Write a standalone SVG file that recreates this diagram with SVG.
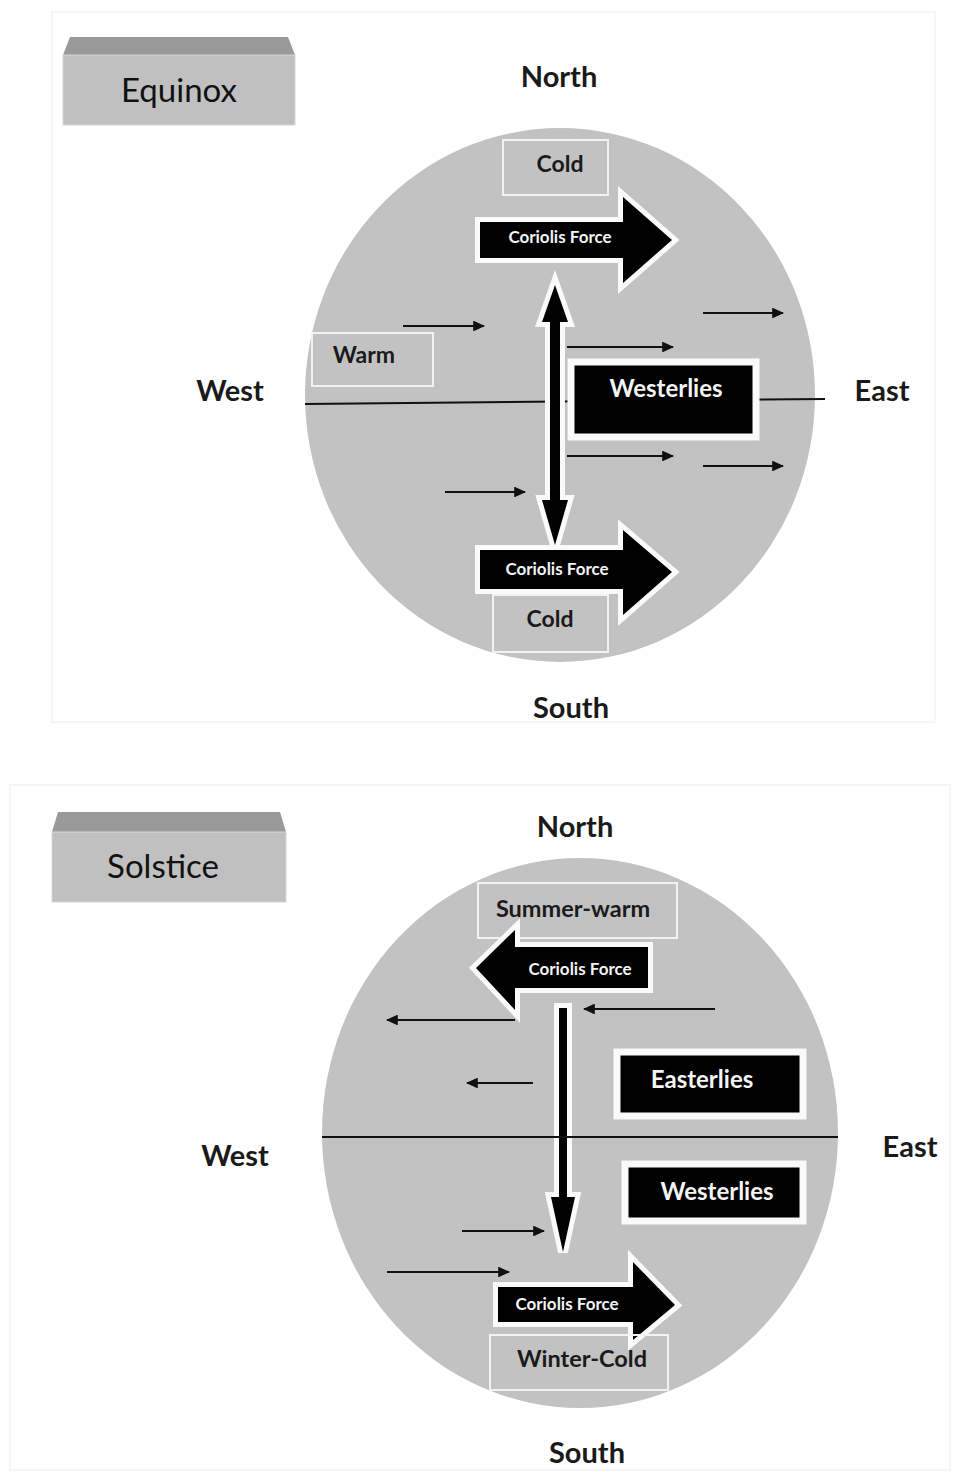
<svg xmlns="http://www.w3.org/2000/svg" width="956" height="1472" viewBox="0 0 956 1472">
<style>
.lbl{font-family:Lato,"Open Sans","Liberation Sans",sans-serif;font-weight:700;fill:#1a1a1a;text-anchor:middle;dominant-baseline:central}
.title{font-family:Lato,"Open Sans","Liberation Sans",sans-serif;font-weight:400;font-size:33px;fill:#111;text-anchor:middle;dominant-baseline:central}
.wt{font-family:Lato,"Open Sans","Liberation Sans",sans-serif;font-weight:700;fill:#f4f4f4;text-anchor:middle;dominant-baseline:central}
.dir{font-size:29px}
.globe{fill:#c2c2c2}
.wbox{fill:none;stroke:#f2f2f2;stroke-width:2}
.blk{fill:#000;stroke:#fafafa;stroke-width:10;stroke-linejoin:miter;paint-order:stroke}
.bbox{fill:#000;stroke:#fafafa;stroke-width:7}
.wind{stroke:#111;stroke-width:2;fill:none;marker-end:url(#ah)}
.eq{stroke:#111;stroke-width:2}
.front{fill:#c0c0c0;stroke:#d8d8d8;stroke-width:1}
.top{fill:#999}
.panel{fill:#fff;stroke:#f6f6f6;stroke-width:2}
</style>
<defs>
<marker id="ah" viewBox="0 0 10 9" refX="9" refY="4.5" markerWidth="6" markerHeight="5.4" orient="auto" markerUnits="strokeWidth">
<path d="M0,0 L10,4.5 L0,9 z" fill="#111"/>
</marker>
</defs>
<rect width="956" height="1472" fill="#fff"/>
<rect class="panel" x="52" y="12" width="883" height="710"/>
<rect class="panel" x="10" y="785" width="940" height="685"/>

<!-- ============ EQUINOX ============ -->
<g id="equinox-title">
<polygon class="top" points="70,37 288,37 295,55 63,55"/>
<rect class="front" x="63" y="55" width="232" height="70"/>
<text class="title" x="179" y="89">Equinox</text>
</g>
<g id="eq-globe">
<ellipse class="globe" cx="560" cy="395" rx="255" ry="267"/>
</g>
<g id="eq-directions">
<text class="lbl dir" x="559" y="75">North</text>
<text class="lbl dir" x="571" y="706">South</text>
<text class="lbl dir" x="230" y="389">West</text>
<text class="lbl dir" x="882" y="389">East</text>
</g>
<g id="eq-connectors">
<line class="eq" x1="305" y1="404" x2="825" y2="399"/>
<line class="wind" x1="403" y1="326" x2="484" y2="326"/>
<line class="wind" x1="703" y1="313" x2="783" y2="313"/>
<line class="wind" x1="567" y1="347" x2="673" y2="347"/>
<line class="wind" x1="567" y1="456" x2="673" y2="456"/>
<line class="wind" x1="703" y1="466" x2="783" y2="466"/>
<line class="wind" x1="445" y1="492" x2="525" y2="492"/>
</g>
<g id="eq-cold-top">
<rect class="wbox" x="503" y="140" width="105" height="55"/>
<text class="lbl" font-size="23" x="560" y="163">Cold</text>
</g>
<g id="eq-warm">
<rect class="wbox" x="312" y="333" width="121" height="53"/>
<text class="lbl" font-size="23" x="364" y="354">Warm</text>
</g>
<g id="eq-coriolis-top">
<polygon class="blk" points="480,222 623,222 623,197 672,240 623,283 623,258 480,258"/>
<text class="wt" font-size="17" x="560" y="236">Coriolis Force</text>
</g>
<g id="eq-meridian-arrow">
<polygon class="blk" points="555,285 568,322 560,322 560,500 568,500 555,545 542,500 550,500 550,322 542,322"/>
</g>
<g id="eq-westerlies">
<rect class="bbox" x="571" y="362" width="185" height="75"/>
<text class="wt" font-size="24" x="666" y="387">Westerlies</text>
</g>
<g id="eq-coriolis-bottom">
<polygon class="blk" points="480,550 623,550 623,530 672,572 623,615 623,589 480,589"/>
<text class="wt" font-size="17" x="557" y="568">Coriolis Force</text>
</g>
<g id="eq-cold-bottom">
<rect class="wbox" x="493" y="595" width="115" height="57"/>
<text class="lbl" font-size="23" x="550" y="618">Cold</text>
</g>

<!-- ============ SOLSTICE ============ -->
<g id="solstice-title">
<polygon class="top" points="58,812 280,812 286,832 52,832"/>
<rect class="front" x="52" y="832" width="234" height="70"/>
<text class="title" x="163" y="865">Solstice</text>
</g>
<g id="so-globe">
<ellipse class="globe" cx="580" cy="1133" rx="258" ry="275"/>
</g>
<g id="so-directions">
<text class="lbl dir" x="575" y="825">North</text>
<text class="lbl dir" x="587" y="1451">South</text>
<text class="lbl dir" x="235" y="1154">West</text>
<text class="lbl dir" x="910" y="1145">East</text>
</g>
<g id="so-meridian-arrow">
<polygon class="blk" points="559,1008 567,1008 567,1197 575,1197 563,1252 551,1197 559,1197"/>
</g>
<g id="so-connectors">
<line class="eq" x1="322" y1="1137" x2="838" y2="1137"/>
<line class="wind" x1="715" y1="1009" x2="584" y2="1009"/>
<line class="wind" x1="515" y1="1020" x2="387" y2="1020"/>
<line class="wind" x1="533" y1="1083" x2="467" y2="1083"/>
<line class="wind" x1="462" y1="1231" x2="544" y2="1231"/>
<line class="wind" x1="387" y1="1272" x2="509" y2="1272"/>
</g>
<g id="so-summer-warm">
<rect class="wbox" x="478" y="883" width="199" height="55"/>
<text class="lbl" font-size="23.5" x="573" y="908">Summer-warm</text>
</g>
<g id="so-coriolis-top">
<polygon class="blk" points="648,947 515,947 515,930 476,968 515,1010 515,988 648,988"/>
<text class="wt" font-size="17" x="580" y="968">Coriolis Force</text>
</g>
<g id="so-easterlies">
<rect class="bbox" x="617" y="1052" width="186" height="64"/>
<text class="wt" font-size="24" x="702" y="1078">Easterlies</text>
</g>
<g id="so-westerlies">
<rect class="bbox" x="625" y="1164" width="178" height="57"/>
<text class="wt" font-size="24" x="717" y="1190">Westerlies</text>
</g>
<g id="so-coriolis-bottom">
<polygon class="blk" points="498,1287 633,1287 633,1262 675,1305 633,1340 633,1322 498,1322"/>
<text class="wt" font-size="17" x="567" y="1303">Coriolis Force</text>
</g>
<g id="so-winter-cold">
<rect class="wbox" x="490" y="1335" width="178" height="55"/>
<text class="lbl" font-size="23.5" x="582" y="1358">Winter-Cold</text>
</g>
</svg>
